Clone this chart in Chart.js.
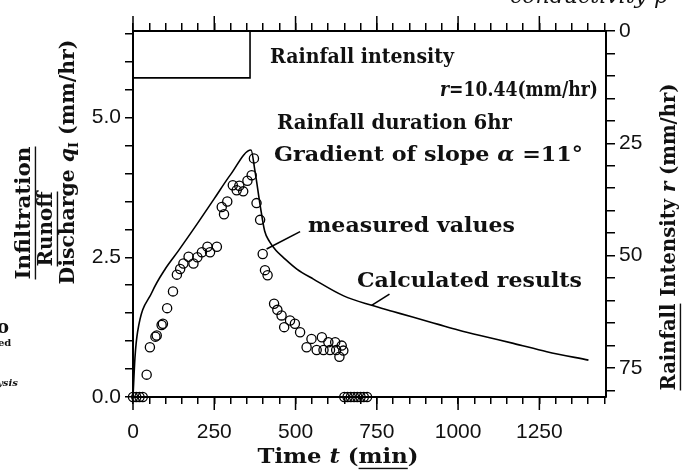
<!DOCTYPE html>
<html><head><meta charset="utf-8">
<script src="https://cdn.jsdelivr.net/npm/chart.js@4.4.1/dist/chart.umd.min.js"></script>
<style>html,body{margin:0;padding:0;background:#fff;}#wrap{width:685px;height:475px;}</style>
</head><body><div id="wrap"><canvas id="c" width="685" height="475"></canvas></div>
<script>
// ---- data ----
const calcTime = [0, 6, 14, 58, 100, 140, 200, 250, 300, 363, 375, 392, 405, 420, 440, 462, 504, 555, 648, 734, 800, 860, 939, 1000, 1068, 1170, 1273, 1401];
const calcQ    = [0, 0.7, 1.16, 1.87, 2.3, 2.62, 3.12, 3.55, 3.98, 4.42, 4.05, 3.4, 2.97, 2.78, 2.62, 2.5, 2.29, 2.11, 1.81, 1.64, 1.53, 1.43, 1.30, 1.20, 1.10, 0.96, 0.81, 0.66];
const measTime = [0, 10, 20, 30, 42, 52, 69, 73, 88, 92, 105, 123, 135, 145, 155, 171, 186, 198, 212, 229, 237, 258,
  273, 280, 290, 307, 319, 327, 339, 352, 365, 372, 380, 391, 399, 406, 414, 434, 444, 457, 465, 483, 498, 514, 534, 549,
  565, 581, 586, 601, 606, 622, 625, 635, 642, 647, 650, 660, 670, 680, 690, 700, 710, 720];
const measQ    = [0, 0, 0, 0, 0.40, 0.89, 1.08, 1.10, 1.29, 1.31, 1.59, 1.89, 2.19, 2.29, 2.39, 2.51, 2.39, 2.50, 2.59, 2.69, 2.59, 2.69,
  3.40, 3.27, 3.50, 3.79, 3.70, 3.78, 3.68, 3.87, 3.97, 4.27, 3.47, 3.17, 2.56, 2.27, 2.18, 1.67, 1.56, 1.46, 1.25, 1.37, 1.31, 1.16, 0.89, 1.04,
  0.84, 1.07, 0.84, 0.98, 0.84, 0.98, 0.84, 0.72, 0.92, 0.83, 0, 0, 0, 0, 0, 0, 0, 0];
const rainTime = [0, 0, 360, 360];
const rainIntensity = [0, 10.44, 10.44, 0];
const xTickLabels = [0, 250, 500, 750, 1000, 1250];
const qTickLabels = [0, 2.5, 5.0];
const rTickLabels = [0, 25, 50, 75];

const pts = (xs, ys) => xs.map((x, i) => ({x, y: ys[i]}));
const INK = '#111';
const tickFont = {family: '"Liberation Sans", Arial, sans-serif', size: 21};
const SERIF = '"DejaVu Serif", serif';

function fontOf(p, s, wt) {
  return `${p.it ? 'italic ' : ''}${wt || 'bold'} ${((p.sub ? 0.62 : 1) * s).toFixed(1)}px ${SERIF}`;
}
function measure(ctx, parts, s, wt) {
  return parts.reduce((a, p) => { ctx.font = fontOf(p, s, wt); return a + ctx.measureText(p.t).width; }, 0);
}
// draws text of height `size`; if `w` is given the run is stretched/condensed horizontally to that length
function drawText(ctx, parts, o) {
  const wt = o.weight || 'bold';
  const s = o.size || 20;
  const tw = measure(ctx, parts, s, wt);
  const sx = o.w ? o.w / tw : 1;
  ctx.save();
  ctx.translate(o.x, o.y);
  if (o.rot) ctx.rotate(o.rot * Math.PI / 180);
  ctx.scale(sx, 1);
  let x = o.align === 'center' ? -tw / 2 : o.align === 'right' ? -tw : 0;
  ctx.textBaseline = o.baseline || 'middle';
  ctx.textAlign = 'left';
  ctx.fillStyle = INK;
  parts.forEach(p => {
    ctx.font = fontOf(p, s, wt);
    const dy = p.sub ? s * 0.3 : 0;
    ctx.fillText(p.t, x, dy);
    const pw = ctx.measureText(p.t).width;
    if (p.ul) ctx.fillRect(x, s * 0.5, pw, 1.4);
    x += pw;
  });
  ctx.restore();
}

const decor = {
  id: 'decor',
  afterDraw(chart) {
    const ctx = chart.ctx;
    const xs = chart.scales.x, ys = chart.scales.y;
    const ca = chart.chartArea;
    ctx.save();
    ctx.strokeStyle = '#000';
    ctx.lineWidth = 1.5;
    // longer major tick marks on bottom and top time axes
    xTickLabels.forEach(v => {
      const px = xs.getPixelForValue(v);
      ctx.beginPath(); ctx.moveTo(px, ca.bottom); ctx.lineTo(px, ca.bottom + 13); ctx.stroke();
      ctx.beginPath(); ctx.moveTo(px, ca.top); ctx.lineTo(px, ca.top - 15); ctx.stroke();
    });
    // leader lines (in data units)
    ctx.lineWidth = 1.6;
    const lead = (t0, q0, t1, q1) => {
      ctx.beginPath();
      ctx.moveTo(xs.getPixelForValue(t0), ys.getPixelForValue(q0));
      ctx.lineTo(xs.getPixelForValue(t1), ys.getPixelForValue(q1));
      ctx.stroke();
    };
    lead(411, 2.65, 514, 2.96);
    lead(734, 1.64, 789, 1.84);
    ctx.restore();

    const S = 19.5;
    // annotations (left/right edges)
    drawText(ctx, [{t: 'Rainfall intensity'}], {x: 270, y: 58, size: S, w: 184});
    drawText(ctx, [{t: 'r', it: true}, {t: '=10.44(mm/hr)'}], {x: 598, y: 91, size: S, w: 158, align: 'right'});
    drawText(ctx, [{t: 'Rainfall duration 6hr'}], {x: 277, y: 124, size: S, w: 235});
    drawText(ctx, [{t: 'Gradient of slope '}, {t: 'α', it: true}, {t: ' =11°'}], {x: 274, y: 156, size: S, w: 309});
    drawText(ctx, [{t: 'measured values'}], {x: 308, y: 227, size: S, w: 207});
    drawText(ctx, [{t: 'Calculated results'}], {x: 357, y: 282, size: S, w: 225});

    // axis titles
    drawText(ctx, [{t: 'Time '}, {t: 't', it: true}, {t: ' ('}, {t: 'min', ul: true}, {t: ')'}], {x: 338, y: 458, size: S, w: 161, align: 'center'});
    drawText(ctx, [{t: 'Infiltration', ul: true}], {x: 25, y: 213, size: S, w: 133, align: 'center', rot: -90});
    drawText(ctx, [{t: 'Runoff', ul: true}], {x: 47, y: 229, size: S, w: 75, align: 'center', rot: -90});
    drawText(ctx, [{t: 'Discharge '}, {t: 'q', it: true}, {t: 'I', sub: true}, {t: ' (mm/hr)'}], {x: 69, y: 162, size: S, w: 245, align: 'center', rot: -90});
    drawText(ctx, [{t: 'Rainfall', ul: true}, {t: ' Intensity '}, {t: 'r', it: true}, {t: ' (mm/hr)'}], {x: 670, y: 237, size: S, w: 307, align: 'center', rot: -90});

    // fragments of neighbouring text cut by the image border
    drawText(ctx, [{t: 'conductivity p', it: true}], {x: 510, y: 3, size: 22, baseline: 'alphabetic', weight: 'normal'});
    drawText(ctx, [{t: 'o'}], {x: -3, y: 328, size: 18});
    drawText(ctx, [{t: 'ed'}], {x: -2, y: 343, size: 10});
    drawText(ctx, [{t: 'ysis', it: true}], {x: -3, y: 383, size: 10});
  }
};

const axisBorder = {display: true, color: '#000', width: 2};

new Chart(document.getElementById('c'), {
  type: 'scatter',
  data: {
    datasets: [
      {label: 'Rainfall intensity', data: pts(rainTime, rainIntensity), xAxisID: 'x', yAxisID: 'y2', showLine: true,
       borderColor: '#000', borderWidth: 1.6, pointRadius: 0, fill: false, tension: 0, clip: false},
      {label: 'Calculated results', data: pts(calcTime, calcQ), xAxisID: 'x', yAxisID: 'y', showLine: true,
       borderColor: '#000', borderWidth: 1.6, pointRadius: 0, cubicInterpolationMode: 'monotone', clip: false},
      {label: 'measured values', data: pts(measTime, measQ), xAxisID: 'x', yAxisID: 'y', showLine: false,
       pointStyle: 'circle', pointRadius: 4.6, pointBorderWidth: 1.3, pointBorderColor: '#000',
       pointBackgroundColor: 'rgba(0,0,0,0)', clip: false}
    ]
  },
  options: {
    responsive: false,
    animation: false,
    devicePixelRatio: 1,
    layout: {padding: 0},
    plugins: {legend: {display: false}, tooltip: {enabled: false}},
    scales: {
      x: {type: 'linear', position: 'bottom', min: 0, max: 1455,
          afterFit: s => { s.height = 78; },
          border: axisBorder,
          grid: {drawOnChartArea: false, drawTicks: true, tickLength: 7, color: '#000', lineWidth: 1.5},
          ticks: {stepSize: 50, autoSkip: false, maxRotation: 0, includeBounds: false, padding: 16, color: INK, font: tickFont,
                  callback: v => xTickLabels.includes(v) ? String(v) : ''}},
      x2: {type: 'linear', position: 'top', min: 0, max: 1455,
           afterFit: s => { s.height = 31; },
           border: axisBorder,
           grid: {drawOnChartArea: false, drawTicks: true, tickLength: 8, color: '#000', lineWidth: 1.5},
           ticks: {stepSize: 50, autoSkip: false, maxRotation: 0, includeBounds: false, font: {size: 1}, callback: () => ''}},
      y: {type: 'linear', position: 'left', min: 0, max: 6.55,
          afterFit: s => { s.width = 133; },
          border: axisBorder,
          grid: {drawOnChartArea: false, drawTicks: true, tickLength: 8, color: '#000', lineWidth: 1.5},
          ticks: {stepSize: 0.5, autoSkip: false, includeBounds: false, padding: 4, color: INK, font: tickFont,
                  callback: v => qTickLabels.some(t => Math.abs(t - v) < 1e-6) ? v.toFixed(1) : ''}},
      y2: {type: 'linear', position: 'right', min: 0, max: 81.5, reverse: true,
           afterFit: s => { s.width = 79; },
           border: axisBorder,
           grid: {drawOnChartArea: false, drawTicks: true, tickLength: 9, color: '#000', lineWidth: 1.5},
           ticks: {stepSize: 5, autoSkip: false, includeBounds: false, padding: 4, color: INK, font: tickFont,
                   callback: v => rTickLabels.includes(v) ? String(v) : ''}}
    }
  },
  plugins: [decor]
});
</script>
</body></html>
